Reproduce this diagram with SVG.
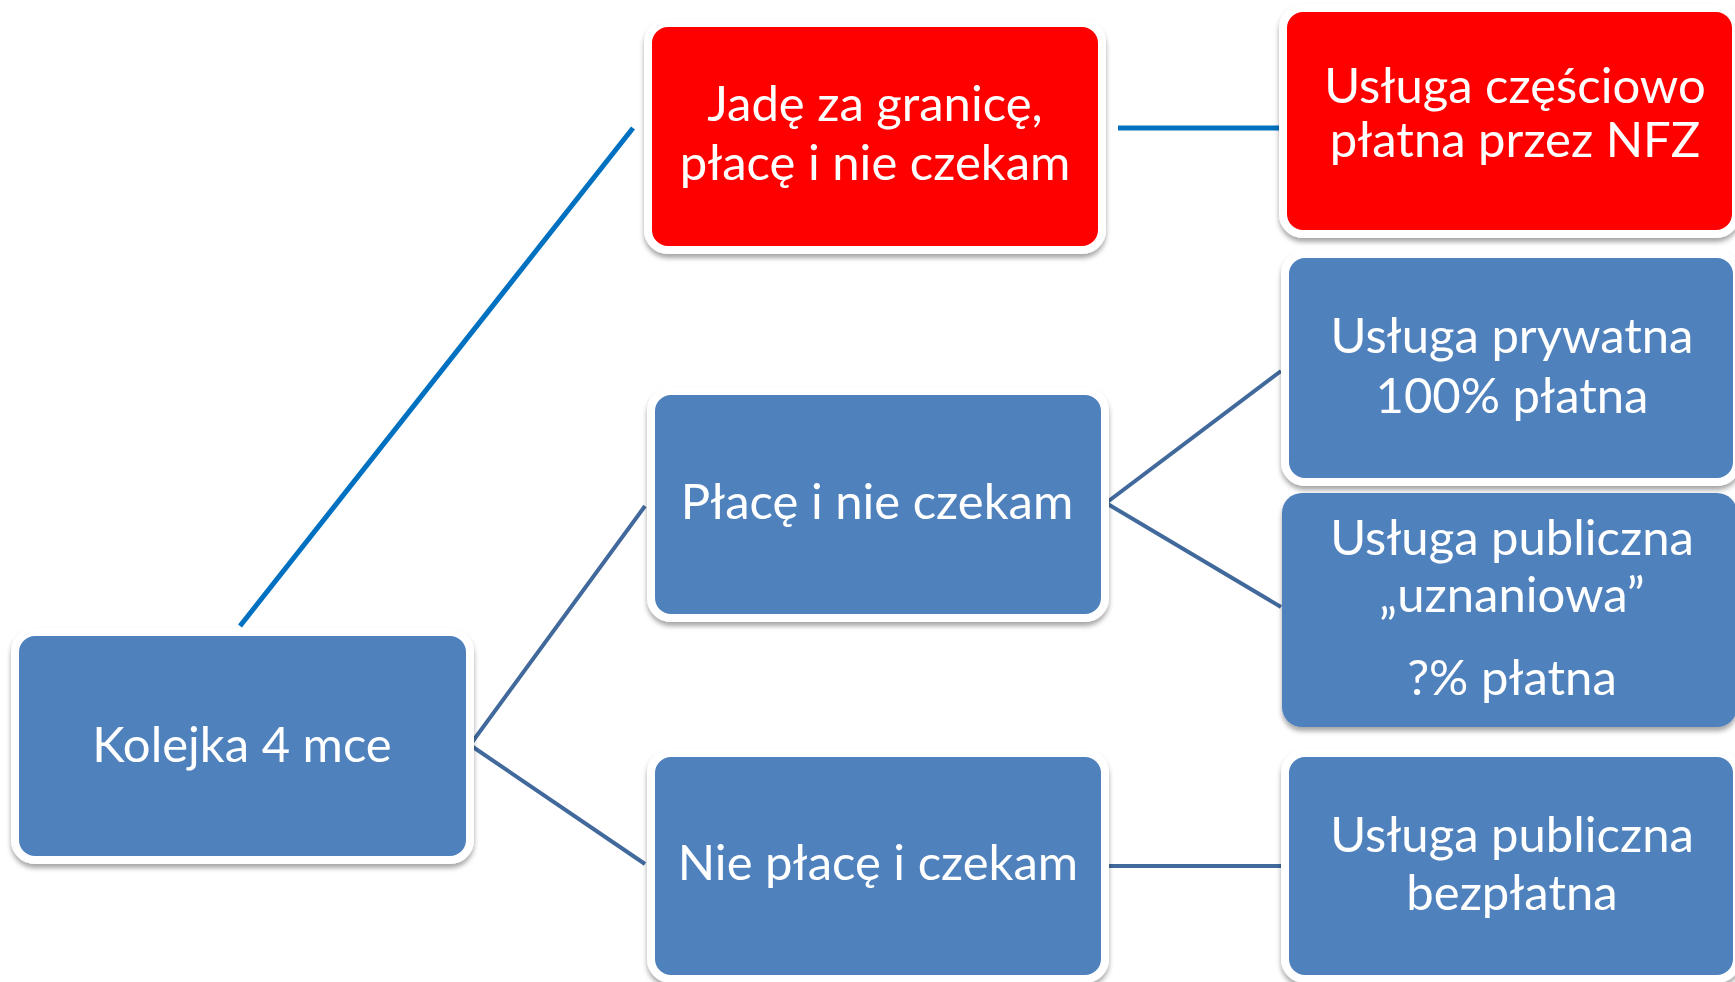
<svg xmlns="http://www.w3.org/2000/svg" width="1735" height="982" viewBox="0 0 1735 982">
<style>
.box{stroke:#fff;stroke-width:8}
.blue{fill:#4F81BD}
.red{fill:#FF0000}
.t{font-family:Lato,"Liberation Sans",sans-serif;font-size:49px;fill:#fff;text-anchor:middle}
.c1{stroke:#0070C0;stroke-width:5;fill:none}
.c2{stroke:#41699C;stroke-width:4;fill:none}
</style>
<defs>
<filter id="sh" x="-10%" y="-10%" width="120%" height="130%">
<feDropShadow dx="0" dy="4" stdDeviation="2.5" flood-color="#000" flood-opacity="0.35"/>
</filter>
</defs>
<rect width="1735" height="982" fill="#fff"/>
<g id="connectors">
<line class="c1" x1="240" y1="626" x2="633" y2="128"/>
<line class="c1" x1="1118" y1="128" x2="1281" y2="128"/>
<polyline class="c2" points="645,506 470,745 645,864"/>
<polyline class="c2" points="1281,371 1106,503 1281,607"/>
<line class="c2" x1="1108" y1="866" x2="1281" y2="866"/>
</g>
<g id="kolejka">
<rect class="box blue" filter="url(#sh)" x="15" y="632" width="455" height="228" rx="20"/>
<text class="t" x="242" y="762">Kolejka 4 mce</text>
</g>
<g id="jade">
<rect class="box red" filter="url(#sh)" x="648" y="23" width="454" height="227" rx="20"/>
<text class="t" x="875" y="121">Jadę za granicę,</text>
<text class="t" x="875" y="180">płacę i nie czekam</text>
</g>
<g id="czesciowo">
<rect class="box red" filter="url(#sh)" x="1283" y="8" width="453" height="226" rx="20"/>
<text class="t" x="1515" y="103">Usługa częściowo</text>
<text class="t" x="1515" y="157">płatna przez NFZ</text>
</g>
<g id="place">
<rect class="box blue" filter="url(#sh)" x="651" y="391" width="454" height="227" rx="20"/>
<text class="t" x="877" y="519">Płacę i nie czekam</text>
</g>
<g id="nieplace">
<rect class="box blue" filter="url(#sh)" x="651" y="753" width="454" height="226" rx="20"/>
<text class="t" x="878" y="880">Nie płacę i czekam</text>
</g>
<g id="prywatna">
<rect class="box blue" filter="url(#sh)" x="1285" y="254" width="452" height="228" rx="20"/>
<text class="t" x="1512" y="353">Usługa prywatna</text>
<text class="t" x="1512" y="413">100% płatna</text>
</g>
<g id="uznaniowa">
<rect class="blue" filter="url(#sh)" x="1282" y="493" width="455" height="234" rx="20"/>
<text class="t" x="1512" y="555">Usługa publiczna</text>
<text class="t" x="1512" y="612">„uznaniowa”</text>
<text class="t" x="1512" y="695">?% płatna</text>
</g>
<g id="bezplatna">
<rect class="box blue" filter="url(#sh)" x="1285" y="753" width="452" height="226" rx="20"/>
<text class="t" x="1512" y="852">Usługa publiczna</text>
<text class="t" x="1512" y="910">bezpłatna</text>
</g>
</svg>
